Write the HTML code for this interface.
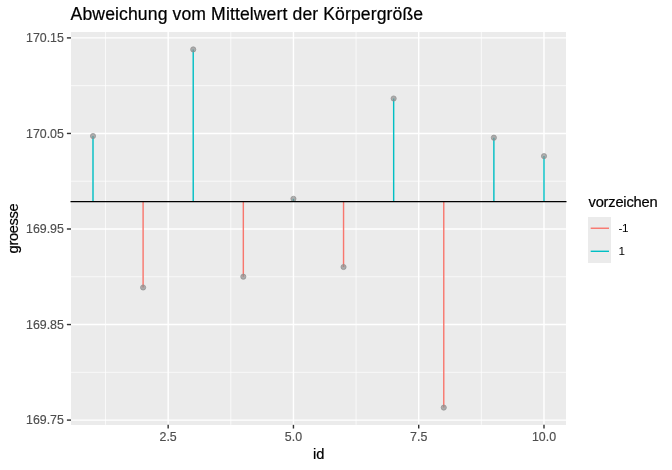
<!DOCTYPE html>
<html lang="de"><head><meta charset="utf-8"><title>Abweichung vom Mittelwert der Körpergröße</title>
<style>html,body{margin:0;padding:0;background:#fff;}svg{display:block;}text{font-family:"Liberation Sans",Arial,Helvetica,sans-serif;stroke-linejoin:round;}.b{stroke:#000;stroke-width:0.22px;}.t{stroke:#4D4D4D;stroke-width:0.15px;}</style></head><body>
<svg width="672" height="470" viewBox="0 0 672 470">
<rect x="0" y="0" width="672" height="470" fill="#fff"/>
<rect x="71" y="32" width="495" height="393" fill="#EBEBEB" shape-rendering="crispEdges"/>
<g stroke="#fff" stroke-width="0.71" fill="none">
<line x1="70.5" x2="566.5" y1="85.68" y2="85.68"/>
<line x1="70.5" x2="566.5" y1="181.23" y2="181.23"/>
<line x1="70.5" x2="566.5" y1="276.78" y2="276.78"/>
<line x1="70.5" x2="566.5" y1="372.32" y2="372.32"/>
<line x1="105.53" x2="105.53" y1="32.0" y2="424.87"/>
<line x1="230.80" x2="230.80" y1="32.0" y2="424.87"/>
<line x1="356.08" x2="356.08" y1="32.0" y2="424.87"/>
<line x1="481.35" x2="481.35" y1="32.0" y2="424.87"/>
</g>
<g stroke="#fff" stroke-width="1.42" fill="none">
<line x1="70.5" x2="566.5" y1="37.90" y2="37.90"/>
<line x1="70.5" x2="566.5" y1="133.45" y2="133.45"/>
<line x1="70.5" x2="566.5" y1="229.00" y2="229.00"/>
<line x1="70.5" x2="566.5" y1="324.55" y2="324.55"/>
<line x1="70.5" x2="566.5" y1="420.10" y2="420.10"/>
<line x1="168.16" x2="168.16" y1="32.0" y2="424.87"/>
<line x1="293.44" x2="293.44" y1="32.0" y2="424.87"/>
<line x1="418.71" x2="418.71" y1="32.0" y2="424.87"/>
<line x1="543.99" x2="543.99" y1="32.0" y2="424.87"/>
</g>
<g stroke-width="1.42" fill="none">
<line x1="93.00" x2="93.00" y1="201.6" y2="136.0" stroke="#00BFC4"/>
<line x1="143.11" x2="143.11" y1="201.6" y2="287.5" stroke="#F8766D"/>
<line x1="193.22" x2="193.22" y1="201.6" y2="49.4" stroke="#00BFC4"/>
<line x1="243.33" x2="243.33" y1="201.6" y2="276.7" stroke="#F8766D"/>
<line x1="293.44" x2="293.44" y1="201.6" y2="198.8" stroke="#00BFC4"/>
<line x1="343.55" x2="343.55" y1="201.6" y2="267.0" stroke="#F8766D"/>
<line x1="393.66" x2="393.66" y1="201.6" y2="98.5" stroke="#00BFC4"/>
<line x1="443.77" x2="443.77" y1="201.6" y2="407.6" stroke="#F8766D"/>
<line x1="493.88" x2="493.88" y1="201.6" y2="137.7" stroke="#00BFC4"/>
<line x1="543.99" x2="543.99" y1="201.6" y2="156.1" stroke="#00BFC4"/>
</g>
<g fill="rgb(140,140,140)" fill-opacity="0.68" stroke="rgb(140,140,140)" stroke-opacity="0.68" stroke-width="0.94">
<circle cx="93.00" cy="136.0" r="2.6"/>
<circle cx="143.11" cy="287.5" r="2.6"/>
<circle cx="193.22" cy="49.4" r="2.6"/>
<circle cx="243.33" cy="276.7" r="2.6"/>
<circle cx="293.44" cy="198.8" r="2.6"/>
<circle cx="343.55" cy="267.0" r="2.6"/>
<circle cx="393.66" cy="98.5" r="2.6"/>
<circle cx="443.77" cy="407.6" r="2.6"/>
<circle cx="493.88" cy="137.7" r="2.6"/>
<circle cx="543.99" cy="156.1" r="2.6"/>
</g>
<line x1="70.5" x2="566.5" y1="201.6" y2="201.6" stroke="#000" stroke-width="1.42"/>
<g stroke="#333" stroke-width="1.42">
<line x1="66.9" x2="71" y1="37.90" y2="37.90"/>
<line x1="66.9" x2="71" y1="133.45" y2="133.45"/>
<line x1="66.9" x2="71" y1="229.00" y2="229.00"/>
<line x1="66.9" x2="71" y1="324.55" y2="324.55"/>
<line x1="66.9" x2="71" y1="420.10" y2="420.10"/>
<line x1="168.16" x2="168.16" y1="424.87" y2="428.54"/>
<line x1="293.44" x2="293.44" y1="424.87" y2="428.54"/>
<line x1="418.71" x2="418.71" y1="424.87" y2="428.54"/>
<line x1="543.99" x2="543.99" y1="424.87" y2="428.54"/>
</g>
<g class="t" font-size="12.4px" fill="#4D4D4D">
<text x="63.9" y="42.30" text-anchor="end">170.15</text>
<text x="63.9" y="138.30" text-anchor="end">170.05</text>
<text x="63.9" y="233.30" text-anchor="end">169.95</text>
<text x="63.9" y="329.30" text-anchor="end">169.85</text>
<text x="63.9" y="424.30" text-anchor="end">169.75</text>
<text x="168.16" y="440.9" text-anchor="middle">2.5</text>
<text x="293.44" y="440.9" text-anchor="middle">5.0</text>
<text x="418.71" y="440.9" text-anchor="middle">7.5</text>
<text x="543.99" y="440.9" text-anchor="middle">10.0</text>
</g>
<text class="b" x="318.6" y="458.8" font-size="14.67px" text-anchor="middle" fill="#000">id</text>
<text class="b" transform="translate(17.5,228.5) rotate(-90)" font-size="14.67px" letter-spacing="-0.33" text-anchor="middle" fill="#000">groesse</text>
<text class="b" x="70.6" y="19.6" font-size="17.6px" letter-spacing="0.11" fill="#000">Abweichung vom Mittelwert der Körpergröße</text>
<text class="b" x="588.5" y="206.7" font-size="14.67px" letter-spacing="-0.2" fill="#000">vorzeichen</text>
<rect x="588" y="217" width="23" height="46" fill="#EBEBEB" shape-rendering="crispEdges"/>
<line x1="590.7" x2="609.0" y1="228.25" y2="228.25" stroke="#F8766D" stroke-width="1.42"/>
<line x1="590.7" x2="609.0" y1="251.3" y2="251.3" stroke="#00BFC4" stroke-width="1.42"/>
<g font-size="11.73px" fill="#000"><text x="618.6" y="232.3" letter-spacing="-0.6">-1</text><text x="618.6" y="255.3">1</text></g>
</svg></body></html>
